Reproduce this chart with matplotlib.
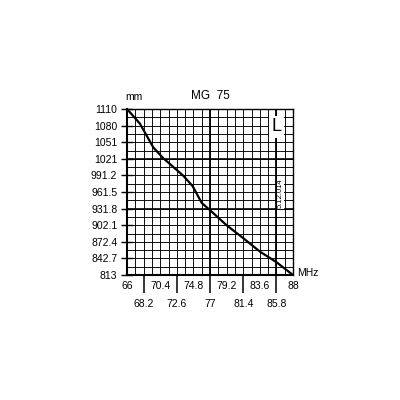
import numpy as np
import matplotlib
matplotlib.use("Agg")
import matplotlib.pyplot as plt

plt.rcParams['font.family'] = ['Liberation Sans', 'DejaVu Sans']

# valeurs
freq = [66, 67.7, 68.2, 69.5, 70.8, 72.0, 73.5, 74.7, 75.9, 77.0, 79.2, 81.4, 83.6, 85.8, 88.0]
length = [1110, 1084, 1072, 1041, 1022, 1008, 990, 972, 942, 929, 902, 879, 855, 836, 813]

x_top_row = [66, 70.4, 74.8, 79.2, 83.6, 88]
x_low_row = [68.2, 72.6, 77, 81.4, 85.8]
y_ticks = [813, 842.7, 872.4, 902.1, 931.8, 961.5, 991.2, 1021, 1051, 1080, 1110]
y_labels = ['813', '842.7', '872.4', '902.1', '931.8', '961.5', '991.2', '1021', '1051', '1080', '1110']
thick_x = [77, 85.8]
thick_y = [1021, 931.8]

fig = plt.figure(figsize=(4, 4), dpi=100)
ax = fig.add_axes([0.3175, 0.3125, 0.415, 0.415])

ax.set_xlim(66, 88)
ax.set_ylim(813, 1110)

# grille
x_minor = np.linspace(66, 88, 21)
y_minor = np.linspace(813, 1110, 21)
ax.xaxis.remove_overlapping_locs = False
ax.yaxis.remove_overlapping_locs = False
ax.set_xticks(x_minor, minor=True)
ax.set_yticks(y_minor, minor=True)
ax.grid(which='minor', color='black', lw=0.65)
ax.tick_params(which='minor', length=0)
for v in thick_x:
    ax.axvline(v, color='black', lw=1.3)
for v in thick_y:
    ax.axhline(v, color='black', lw=1.2)

# axe x : deux rangées d'étiquettes
ax.set_xticks(x_top_row)
ax.set_xticklabels(['%g' % v for v in x_top_row], fontsize=7.5)
ax.tick_params(axis='x', which='major', length=0, pad=4)

sec = ax.secondary_xaxis('bottom')
sec.set_xticks(x_low_row)
sec.set_xticklabels(['%g' % v for v in x_low_row], fontsize=7.5)
sec.tick_params(axis='x', direction='out', length=13, width=1.1, pad=4)
sec.spines['bottom'].set_visible(False)

ax.set_yticks(y_ticks)
ax.set_yticklabels(y_labels, fontsize=7.5)
ax.tick_params(axis='y', which='major', direction='inout', length=8, width=1.0, pad=3)

for s in ['left', 'bottom']:
    ax.spines[s].set_linewidth(1.5)
for s in ['top', 'right']:
    ax.spines[s].set_linewidth(1.0)

ax.plot(freq, length, color='black', lw=1.6, zorder=5)

fig.text(0.335, 0.745, 'mm', fontsize=7.5, ha='center', va='bottom')
fig.text(0.525, 0.745, 'MG  75', fontsize=8.5, ha='center', va='bottom')
fig.text(0.742, 0.3175, 'MHz', fontsize=7.5, ha='left', va='center')
ax.text(85.8, 1078, 'L', fontsize=13, ha='center', va='center',
        bbox=dict(facecolor='white', edgecolor='none', pad=1.5), zorder=6)
ax.text(86.35, 959, '5.12.014', fontsize=5.5, rotation=90, ha='center', va='center',
        bbox=dict(facecolor='white', edgecolor='none', pad=0.3), zorder=6)

fig.savefig('out.png', dpi=100)
